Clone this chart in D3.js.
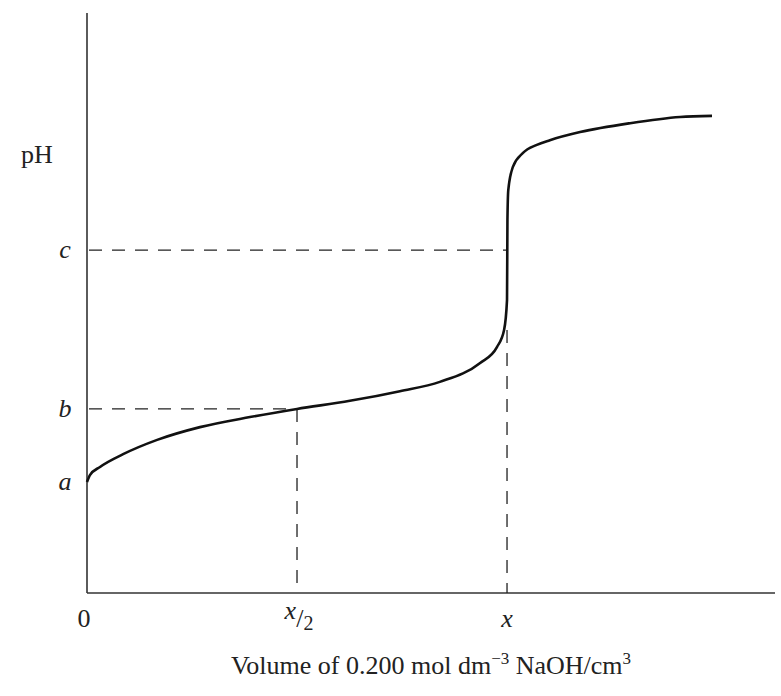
<!DOCTYPE html>
<html>
<head>
<meta charset="utf-8">
<script src="https://cdn.jsdelivr.net/npm/d3@7"></script>
<style>
  body { margin: 0; background: #fff; }
  text { font-family: "Liberation Serif", "DejaVu Serif", serif; fill: #222; }
</style>
</head>
<body>
<svg></svg>
<script>
const size = {w: 781, h: 696};
const margin = {t: 13, r: 6, b: 103, l: 87};
const svg = d3.select('svg').attr('width', size.w).attr('height', size.h);

// volume in units of the equivalence volume x, pH
const volume = [0, 0.007, 0.031, 0.086, 0.167, 0.269, 0.388, 0.5, 0.626, 0.745, 0.84, 0.936, 0.976, 0.993, 1.0, 1.001, 1.003, 1.014, 1.038, 1.071, 1.102, 1.174, 1.293, 1.412, 1.488];
const pH = [2.87, 3.05, 3.26, 3.59, 3.96, 4.29, 4.55, 4.76, 4.97, 5.22, 5.46, 5.95, 6.36, 6.8, 7.58, 9.65, 10.42, 11.02, 11.38, 11.59, 11.71, 11.92, 12.15, 12.31, 12.34];

const levels = ['a', 'b', 'c'];
const levelPH = [2.87, 4.76, 8.87];
const xTicks = [0, 0.5, 1];

const canvas = {w: size.w - margin.l - margin.r, h: size.h - margin.t - margin.b};

const scaleX = d3.scaleLinear().domain([0, 1.638]).range([0, canvas.w]);
const scaleY = d3.scaleLinear().domain([0, 15]).range([canvas.h, 0]);

const g = svg.append('g').attr('transform', `translate(${margin.l}, ${margin.t})`);

// axes
g.append('line').attr('x1', 0).attr('x2', 0).attr('y1', 0).attr('y2', canvas.h)
  .attr('stroke', '#333').attr('stroke-width', 1.6);
g.append('line').attr('x1', 0).attr('x2', canvas.w).attr('y1', canvas.h).attr('y2', canvas.h)
  .attr('stroke', '#333').attr('stroke-width', 1.6);

// dashed guides
const dash = '13,10';
function guide(x1, y1, x2, y2) {
  g.append('line')
    .attr('x1', x1).attr('x2', x2).attr('y1', y1).attr('y2', y2)
    .attr('stroke', '#222').attr('stroke-width', 1.3).attr('stroke-dasharray', dash);
}
guide(2, scaleY(levelPH[1]), scaleX(0.5), scaleY(levelPH[1]));
guide(scaleX(0.5), scaleY(levelPH[1]), scaleX(0.5), canvas.h);
guide(2, scaleY(levelPH[2]), scaleX(1), scaleY(levelPH[2]));
guide(scaleX(1), scaleY(6.8), scaleX(1), canvas.h);

// titration curve
const points = volume.map((v, i) => ({v: v, p: pH[i]}));
const line = d3.line()
  .x(d => scaleX(d.v))
  .y(d => scaleY(d.p))
  .curve(d3.curveMonotoneX);
g.append('path').datum(points)
  .attr('d', line)
  .attr('fill', 'none')
  .attr('stroke', '#111')
  .attr('stroke-width', 2.6);

// level labels
g.selectAll('.level').data(levels).join('text')
  .classed('level', true)
  .attr('x', -22)
  .attr('y', (d, i) => scaleY(levelPH[i]) + 8)
  .attr('text-anchor', 'middle')
  .style('font-style', 'italic')
  .style('font-size', '26px')
  .text(d => d);

// x tick labels
const tickG = g.selectAll('.tick').data(xTicks).join('text')
  .classed('tick', true)
  .attr('x', d => scaleX(d))
  .attr('y', canvas.h + 34)
  .attr('text-anchor', 'middle')
  .style('font-size', '26px');
tickG.each(function(d) {
  const t = d3.select(this);
  if (d === 0) t.attr('x', scaleX(d) - 3).text('0');
  else if (d === 1) t.append('tspan').style('font-style', 'italic').text('x');
  else {
    t.attr('y', canvas.h + 26).attr('x', scaleX(d) + 2);
    t.append('tspan').style('font-style', 'italic').text('x');
    t.append('tspan').attr('dy', 8).text('/');
    t.append('tspan').attr('dy', 3).style('font-size', '20px').text('2');
  }
});

// axis titles
svg.append('text')
  .attr('x', 37).attr('y', 163)
  .attr('text-anchor', 'middle')
  .style('font-size', '26px')
  .text('pH');

const title = svg.append('text')
  .attr('x', 431).attr('y', 674)
  .attr('text-anchor', 'middle')
  .style('font-size', '26px');
title.append('tspan').text('Volume of 0.200 mol dm');
title.append('tspan').attr('dy', -10).style('font-size', '17px').text('\u22123');
title.append('tspan').attr('dy', 10).text(' NaOH/cm');
title.append('tspan').attr('dy', -10).style('font-size', '17px').text('3');
</script>
</body>
</html>
